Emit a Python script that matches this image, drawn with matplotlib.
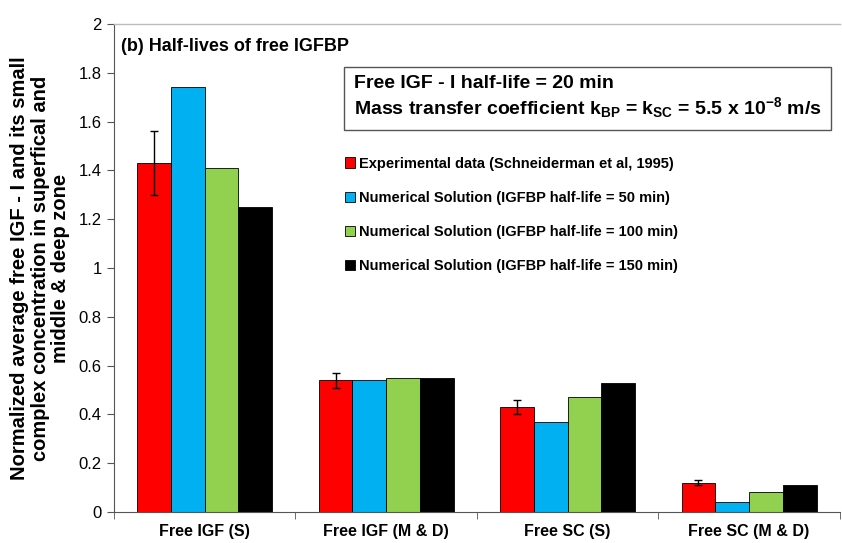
import numpy as np
from matplotlib import pyplot as plt

categories = ["Free IGF (S)", "Free IGF (M & D)", "Free SC (S)", "Free SC (M & D)"]
experimental = [1.43, 0.54, 0.43, 0.12]
experimental_err = [0.13, 0.03, 0.03, 0.01]
half_life_50 = [1.74, 0.54, 0.37, 0.04]
half_life_100 = [1.41, 0.55, 0.47, 0.08]
half_life_150 = [1.25, 0.55, 0.53, 0.11]

series_labels = [
    "Experimental data (Schneiderman et al, 1995)",
    "Numerical Solution (IGFBP half-life = 50 min)",
    "Numerical Solution (IGFBP half-life = 100 min)",
    "Numerical Solution (IGFBP half-life = 150 min)",
]
colors = ["#FF0000", "#00B0F0", "#92D050", "#000000"]

plt.rcParams['font.family'] = ['Liberation Sans', 'DejaVu Sans']
plt.rcParams['mathtext.fontset'] = 'custom'
plt.rcParams['mathtext.rm'] = 'Liberation Sans:bold'
plt.rcParams['mathtext.bf'] = 'Liberation Sans:bold'
plt.rcParams['mathtext.it'] = 'Liberation Sans:bold'

fig = plt.figure(figsize=(8.42, 5.43), dpi=100)
ax = fig.add_axes([0.1354, 0.0571, 0.862, 0.8987])

x = np.arange(len(categories))
w = 0.186
series = [experimental, half_life_50, half_life_100, half_life_150]
for i, vals in enumerate(series):
    pos = x + (i - 1.5) * w
    if i == 0:
        ax.bar(pos, vals, w, color=colors[i], edgecolor="black", linewidth=0.6,
               yerr=experimental_err, capsize=3,
               error_kw=dict(elinewidth=1, capthick=1, ecolor="black"),
               label=series_labels[i])
    else:
        ax.bar(pos, vals, w, color=colors[i], edgecolor="black", linewidth=0.6,
               label=series_labels[i])

ax.set_xlim(-0.5, 3.5)
ax.set_ylim(0, 2)
ax.set_yticks(np.arange(0, 2.01, 0.2))
ax.set_yticklabels(["0", "0.2", "0.4", "0.6", "0.8", "1", "1.2", "1.4", "1.6", "1.8", "2"])
ax.set_xticks(x)
ax.set_xticklabels(categories, fontsize=11.5, fontweight="bold")
ax.set_xticks(np.arange(-0.5, 3.6, 1), minor=True)
ax.tick_params(axis="x", which="major", length=0, pad=9)
ax.tick_params(axis="x", which="minor", length=5, direction="out", color="#555555")
ax.tick_params(axis="y", labelsize=12, direction="out", length=5, color="#555555", pad=4)

ax.spines["right"].set_visible(False)
ax.spines["top"].set_color("#bbbbbb")
ax.spines["top"].set_linewidth(1)
ax.spines["left"].set_color("#555555")
ax.spines["bottom"].set_color("#555555")

ax.set_ylabel("Normalized average free IGF - I and its small\ncomplex concentration in superfical and\nmiddle & deep zone",
              fontsize=14.5, fontweight="bold", linespacing=1.1, labelpad=6)

ax.text(0.01, 0.972, "(b) Half-lives of free IGFBP", transform=ax.transAxes,
        fontsize=13, fontweight="bold", va="top", ha="left")

ax.text(0.33, 0.895,
        "Free IGF - I half-life = 20 min\nMass transfer coefficient k$_{BP}$ = k$_{SC}$ = 5.5 x 10$^{-8}$ m/s",
        transform=ax.transAxes, fontsize=14, fontweight="bold", va="top", ha="left",
        linespacing=1.15,
        bbox=dict(boxstyle="square,pad=0.5", facecolor="white", edgecolor="#555555", linewidth=1))

leg = ax.legend(loc="upper left", bbox_to_anchor=(0.3, 0.755), frameon=False,
                prop=dict(size=10.5, weight="bold"), handlelength=0.7, handleheight=0.7,
                handletextpad=0.3, labelspacing=1.38)

fig.savefig("out.png", dpi=100)
